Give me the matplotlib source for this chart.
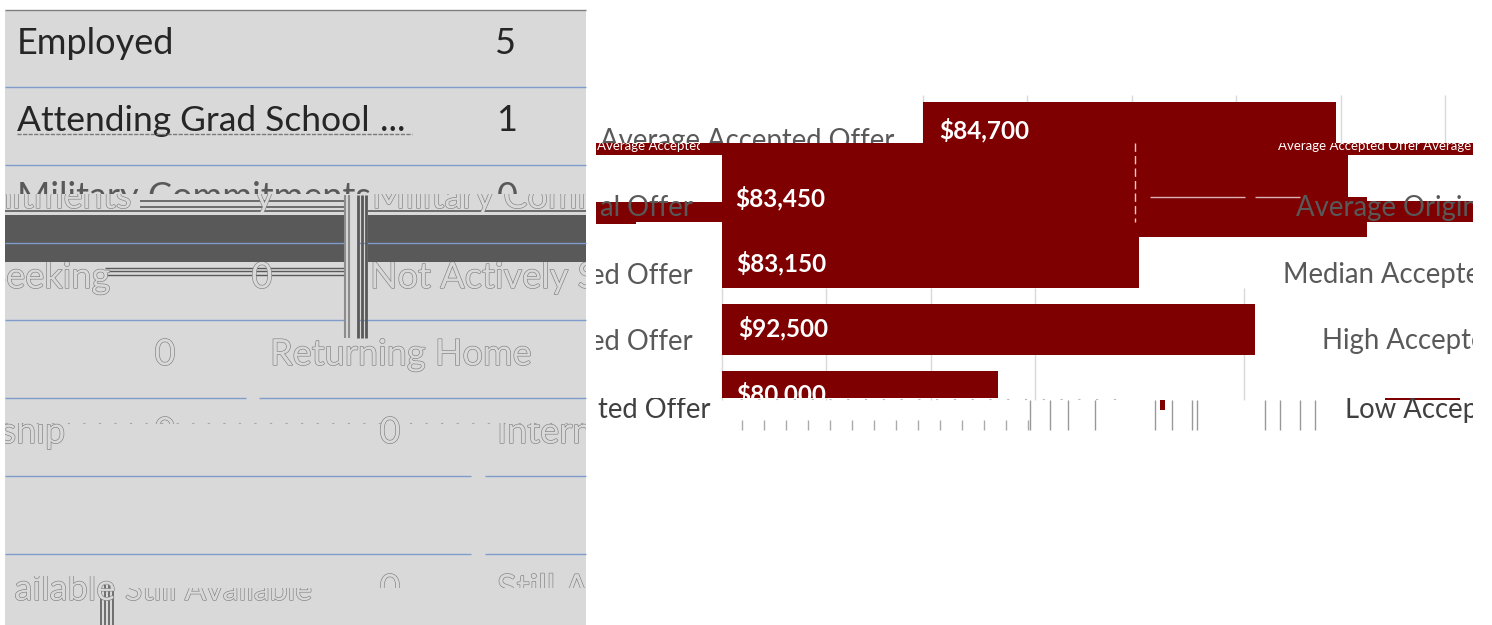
import matplotlib
matplotlib.use("Agg")
import matplotlib.pyplot as plt
from matplotlib.patches import Rectangle
import matplotlib.patheffects as pe

plt.rcParams['font.family'] = ['Lato', 'DejaVu Sans']

# outcome table, as far as it can be read
outcomes = ["Employed", "Attending Grad School", "Military Commitments", "Not Actively Seeking",
            "Returning Home", "Internship", "Still Available"]
outcome_counts = [5, 1, 0, 0, 0, 0, 0]

# offer chart
offer_names = ["Average Accepted Offer", "Average Original Offer", "Median Accepted Offer",
               "High Accepted Offer", "Low Accepted Offer"]
offer_values = ["$84,700", "$83,450", "$83,150", "$92,500", "$80,000"]
# bar lengths in pixels of the picture, the labels do not follow one scale
bar_lengths = [413, 413, 417, 533, 276]

GRAY = '#d9d9d9'
DARK = '#595959'
RED = '#7f0000'
BLUE = '#7f9ccb'

fig = plt.figure(figsize=(14.92, 6.25), dpi=100)
ax = fig.add_axes([0, 0, 1, 1])
ax.set_xlim(0, 1492)
ax.set_ylim(625, 0)
ax.axis('off')


def txt(x, y, s, size, box, color=DARK, ha='left', outline=False, weight='normal', z=5):
    t = ax.text(x, y, s, fontsize=size, color=color, ha=ha, va='baseline', weight=weight, zorder=z)
    clip = Rectangle((box[0], box[1]), box[2] - box[0], box[3] - box[1], transform=ax.transData)
    t.set_clip_on(True)
    t.set_clip_path(clip)
    if outline:
        t.set_color(GRAY)
        t.set_path_effects([pe.withStroke(linewidth=0.9, foreground='#808080')])
    return t


# left panel
ax.add_patch(Rectangle((5, 10), 581, 615, color=GRAY, lw=0, zorder=1))
ax.hlines(10, 5, 586, color='#7f7f7f', lw=1, zorder=2)
ax.hlines([87, 165], 5, 586, color=BLUE, lw=1, zorder=2)
ax.hlines(398, 5, 246, color=BLUE, lw=1, zorder=2)
ax.hlines(398, 259, 586, color=BLUE, lw=1, zorder=2)
ax.hlines([476, 554], 5, 471, color=BLUE, lw=1, zorder=2)
ax.hlines([476, 554], 485, 586, color=BLUE, lw=1, zorder=2)

# dark band and the torn column
ax.add_patch(Rectangle((5, 215), 340, 47, color=DARK, lw=0, zorder=2))
ax.add_patch(Rectangle((368, 215), 218, 47, color=DARK, lw=0, zorder=2))
ax.hlines([243, 320], 5, 344, color=BLUE, lw=1, zorder=3)
ax.hlines([243, 320], 358, 586, color=BLUE, lw=1, zorder=3)
ax.hlines([201, 207], 140, 344, color=DARK, lw=1.2, zorder=2)
ax.hlines(211, 5, 344, color=DARK, lw=1.2, zorder=2)
ax.hlines(211, 368, 586, color=DARK, lw=1.2, zorder=2)
ax.hlines([268, 271, 275], 105, 344, color=DARK, lw=1, zorder=2)
ax.vlines([345, 349], 195, 338, color='#8c8c8c', lw=1.5, zorder=4)
ax.vlines([358, 362, 366], 195, 338, color=DARK, lw=2, zorder=4)
ax.vlines([101, 105, 109, 113], 585, 625, color='#666666', lw=1.3, zorder=4)

size = 26
txt(17, 54, outcomes[0], size, (5, 0, 586, 87), color='#262626')
txt(494, 54, str(outcome_counts[0]), size, (5, 0, 586, 87), color='#262626')
txt(17, 131, outcomes[1], 25.5, (5, 90, 378, 165), color='#262626')
txt(380, 131, "...", size, (5, 90, 586, 165), color='#262626')
txt(496, 131, str(outcome_counts[1]), size, (5, 90, 586, 165), color='#262626')
ax.hlines(134, 17, 412, color='#7a7a7a', lw=1, linestyles=(0, (3, 1)), zorder=6)

# row torn in two halves
txt(17, 208, outcomes[2], size, (5, 170, 586, 194), color=DARK)
txt(497, 208, str(outcome_counts[2]), size, (5, 170, 586, 194), color=DARK)
txt(-223, 208, outcomes[2], size, (5, 194, 140, 212), outline=True)
txt(255, 208, "y", size, (240, 194, 290, 212), outline=True)
txt(372, 208, outcomes[2], size, (368, 194, 586, 212), outline=True)

txt(110, 288, "Seeking", size, (5, 262, 345, 300), ha='right', outline=True)
txt(262, 288, str(outcome_counts[3]), size, (5, 262, 345, 300), ha='center', outline=True)
txt(370, 288, outcomes[3], size, (368, 262, 586, 300), outline=True)

txt(165, 365, str(outcome_counts[4]), size, (5, 325, 586, 395), ha='center', outline=True)
txt(270, 365, outcomes[4], size, (5, 325, 586, 395), outline=True)

txt(65, 443, "ship", size, (5, 423, 586, 470), ha='right', outline=True)
txt(390, 443, str(outcome_counts[5]), size, (5, 415, 586, 470), ha='center', outline=True)
txt(497, 443, "Intern", size, (5, 423, 586, 470), outline=True)
txt(165, 443, str(outcome_counts[5]), size, (5, 415, 586, 424), ha='center', outline=True)
ax.hlines(423, 5, 586, color='#a6a6a6', lw=0.8, linestyles=(0, (2, 12)), zorder=2)

txt(115, 600, "ailable", size, (5, 576, 586, 620), ha='right', outline=True)
txt(390, 600, str(outcome_counts[6]), size, (5, 572, 586, 588), ha='center', outline=True)
txt(497, 600, outcomes[6], size, (5, 572, 586, 588), outline=True)
txt(125, 600, outcomes[6], 23, (118, 588, 346, 605), outline=True)

# right chart, gridlines behind the bars
ax.vlines([923, 1027, 1132, 1236, 1341, 1445], 95, 143, color='#d9d9d9', lw=1, zorder=1)
ax.vlines([722, 826, 931, 1035, 1244], 288, 400, color='#d9d9d9', lw=1, zorder=1)

# bars, each row starts at the offset the image was torn to
bar_lefts = [923, 722, 722, 722, 722]
bar_tops = [102, 143, 237, 304, 371]
bar_heights = [41, 94, 51, 51, 27]
for i in range(5):
    ax.barh(bar_tops[i], bar_lengths[i], height=bar_heights[i], left=bar_lefts[i],
            align='edge', color=RED, zorder=2)

# extra torn slices of the same bars
ax.barh([143, 197], [626, 645], height=[54, 40], left=722, align='edge', color=RED, zorder=2)
ax.barh([143, 201], [137, 137], height=[12, 21], left=1336, align='edge', color=RED, zorder=2)
ax.barh([143, 202, 222], [127, 126, 40], height=[12, 20, 2], left=596, align='edge', color=RED, zorder=2)
ax.barh(400, 5, height=10, left=1160, align='edge', color=RED, zorder=2)
ax.barh(398, 75, height=2, left=1385, align='edge', color=RED, zorder=2)
ax.hlines(197, 1150, 1245, color='#d9b3b3', lw=1, zorder=3)
ax.hlines(197, 1255, 1300, color='#d9b3b3', lw=1, zorder=3)
ax.vlines(1135, 143, 222, color='#e6cccc', lw=1, linestyles=(0, (6, 3)), zorder=3)

# value labels
label_x = [939, 735, 736, 738, 736]
label_y = [138, 206, 271, 336, 402]
label_clip = [(923, 102, 1336, 143), (722, 143, 1135, 237), (722, 237, 1139, 288),
              (722, 304, 1255, 355), (722, 371, 998, 398)]
for i in range(5):
    txt(label_x[i], label_y[i], offer_values[i], 17.5, label_clip[i], color='white', weight='bold')

# category labels, each one split over the tear
cat = 19.8
txt(600, 149, offer_names[0], cat, (596, 120, 923, 143))
txt(1278, 150, offer_names[0] + " " + offer_names[0], 9.5, (1278, 143, 1473, 153), color='white')
txt(597, 150, offer_names[0], 9.5, (597, 143, 700, 152), color='white')
txt(693, 216, "al Offer", cat, (596, 195, 722, 230), ha='right')
txt(1296, 216, offer_names[1], cat, (1296, 195, 1473, 230))
txt(693, 284, "ed Offer", cat, (596, 260, 722, 300), ha='right')
txt(1283, 283, offer_names[2], cat, (1283, 255, 1473, 300))
txt(693, 350, "ed Offer", cat, (596, 325, 722, 365), ha='right')
txt(1322, 349, offer_names[3], cat, (1322, 320, 1473, 365))
txt(710, 418, "ted Offer", cat, (596, 398, 722, 430), ha='right', color='#404040')
txt(1345, 418, offer_names[4], cat, (1345, 398, 1473, 430), color='#404040')

# broken remains of the axis below the last bar
ax.vlines([1030, 1050, 1068, 1095, 1155, 1172, 1192, 1197, 1265, 1280, 1300, 1315], 400, 430,
          color='#999999', lw=1, zorder=2)
ax.vlines(list(range(742, 1030, 22)), 420, 430, color='#aaaaaa', lw=1, zorder=2)
ax.hlines(399, 740, 1130, color='#bbbbbb', lw=0.8, linestyles=(0, (2, 14)), zorder=2)

fig.savefig("out.png", dpi=100)
